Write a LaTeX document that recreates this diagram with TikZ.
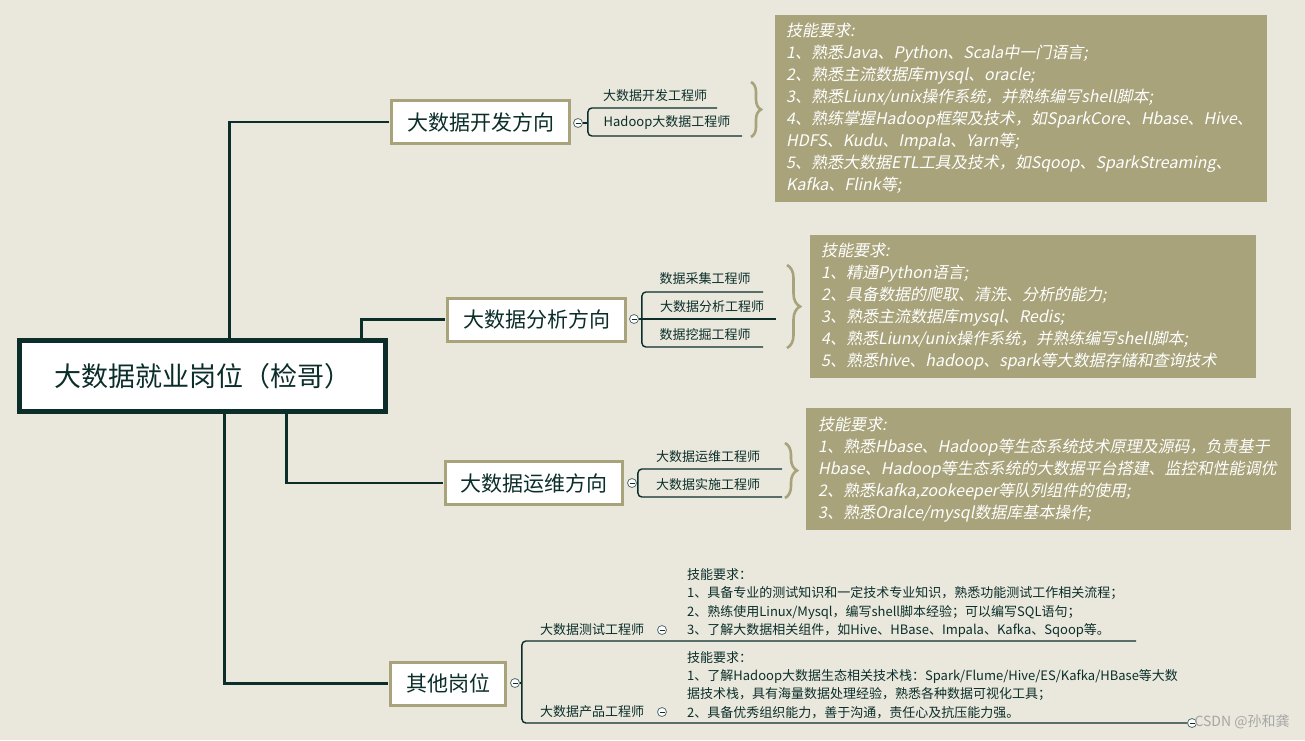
\documentclass[tikz,border=0pt]{standalone}
\usepackage{fontspec}
\setmainfont{Noto Sans CJK SC}
\newfontfamily\skillfont[FakeSlant=0.2]{Noto Sans CJK SC}
\usetikzlibrary{decorations.pathreplacing}
\definecolor{bg}{HTML}{EAE8DC}
\definecolor{tan}{HTML}{A8A37B}
\definecolor{ink}{HTML}{0B2E2B}

\tikzset{
  branch/.style={draw=tan, line width=3pt, fill=white, text=ink, minimum height=43pt, inner sep=0pt, font=\fontsize{21}{21}\selectfont},
  skill/.style={fill=tan, text=white, align=left, anchor=north west, inner xsep=11pt, inner ysep=0pt, font=\skillfont\fontsize{16}{22}\selectfont},
  plain/.style={text=ink, align=left, anchor=west, inner sep=0pt, font=\fontsize{13}{18.2}\selectfont},
  sublabel/.style={text=ink, inner sep=0pt, font=\fontsize{13}{13}\selectfont},
  conn/.style={draw=ink, line width=2.5pt},
  sub/.style={draw=ink, line width=1.4pt, rounded corners=4pt},
  curly/.style={draw=tan, line width=2.6pt, decorate, decoration={brace, amplitude=#1}},
  fold/.style={circle, draw=ink!70, fill=white, line width=0.8pt, minimum size=9pt, inner sep=0pt,
    path picture={\draw[ink, line width=0.8pt] ([xshift=2pt]path picture bounding box.west) -- ([xshift=-2pt]path picture bounding box.east);}}
}

\begin{document}
\begin{tikzpicture}[x=1pt, y=-1pt]
\fill[bg] (0,0) rectangle (1305,740);
\useasboundingbox (0,0) rectangle (1305,740);

\node[draw=ink, line width=5pt, fill=white, text=ink, minimum width=366pt, minimum height=71pt, font=\fontsize{27}{27}\selectfont] (root) at (202.5,376) {大数据就业岗位（检哥）};

\node[branch, minimum width=178pt] (dev) at (480.5,122) {大数据开发方向};
\node[branch, minimum width=178pt] (ana) at (536.5,319.5) {大数据分析方向};
\node[branch, minimum width=177pt] (ops) at (534,483) {大数据运维方向};
\node[branch, minimum width=115pt] (other) at (448,683.5) {其他岗位};

\draw[conn] ([xshift=27pt]root.north) |- ([xshift=-1.5pt]dev.west);
\draw[conn] ([xshift=159pt]root.north) |- ([xshift=-1.5pt]ana.west);
\draw[conn] ([xshift=84pt]root.south) |- ([xshift=-1.5pt]ops.west);
\draw[conn] ([xshift=22pt]root.south) |- ([xshift=-1.5pt]other.west);

\node[fold] (f1) at (578,123) {};
\node[fold] (f2) at (634,319) {};
\node[fold] (f3) at (632,483) {};
\node[fold] (f4) at (515,683) {};

\node[sublabel] (d1) at (655,96) {大数据开发工程师};
\node[sublabel] (d2) at (667,123) {Hadoop大数据工程师};
\coordinate (d1e) at (717,108);
\coordinate (d2e) at (742,136);
\draw[sub] (d1e) -| ([xshift=5pt]f1.east) |- (d2e);
\draw[sub] (f1.east) -- ([xshift=5pt]f1.east);

\node[sublabel] (a1) at (705,279) {数据采集工程师};
\node[sublabel] (a2) at (712,307) {大数据分析工程师};
\node[sublabel] (a3) at (705,335) {数据挖掘工程师};
\coordinate (a1e) at (763,292);
\coordinate (a2e) at (776,319);
\coordinate (a3e) at (763,347);
\draw[sub] (a1e) -| ([xshift=3pt]f2.east) |- (a3e);
\draw[sub] (f2.east) -- (a2e);

\node[sublabel] (o1) at (708,457) {大数据运维工程师};
\node[sublabel] (o2) at (708,485) {大数据实施工程师};
\coordinate (o1e) at (782,469);
\coordinate (o2e) at (782,497);
\draw[sub] (o1e) -| ([xshift=1pt]f3.east) |- (o2e);
\draw[sub] (f3.east) -- ([xshift=1pt]f3.east);

\node[sublabel, anchor=west] (t1) at (540,630) {大数据测试工程师};
\node[sublabel, anchor=west] (t2) at (540,712) {大数据产品工程师};
\node[fold] (g1) at (662,630) {};
\node[fold] (g2) at (662,712) {};
\node[fold] (g3) at (1192,723) {};
\coordinate (t1e) at (1136,641);
\draw[sub] (t1e) -| ([xshift=2pt]f4.east) |- (g3.west);
\draw[sub] (f4.east) -- ([xshift=2pt]f4.east);

\draw[curly=10pt] (751,82) -- (751,137);
\draw[curly=13pt] (787,265) -- (787,348);
\draw[curly=12pt] (785,443) -- (785,498);

\node[skill, minimum width=492pt, minimum height=187pt, text width=470pt] (s1) at (775,15) {技能要求:\\
1、熟悉Java、Python、Scala中一门语言;\\
2、熟悉主流数据库mysql、oracle;\\
3、熟悉Liunx/unix操作系统，并熟练编写shell脚本;\\
4、熟练掌握Hadoop框架及技术，如SparkCore、Hbase、Hive、\\
HDFS、Kudu、Impala、Yarn等;\\
5、熟悉大数据ETL工具及技术，如Sqoop、SparkStreaming、\\
Kafka、Flink等;};

\node[skill, minimum width=446pt, minimum height=143pt, text width=424pt] (s2) at (810,235) {技能要求:\\
1、精通Python语言;\\
2、具备数据的爬取、清洗、分析的能力;\\
3、熟悉主流数据库mysql、Redis;\\
4、熟悉Liunx/unix操作系统，并熟练编写shell脚本;\\
5、熟悉hive、hadoop、spark等大数据存储和查询技术};

\node[skill, minimum width=483pt, minimum height=122pt, text width=461pt, inner xsep=12pt] (s3) at (806,408) {技能要求:\\
1、熟悉Hbase、Hadoop等生态系统技术原理及源码，负责基于\\
Hbase、Hadoop等生态系统的大数据平台搭建、监控和性能调优\\
2、熟悉kafka,zookeeper等队列组件的使用;\\
3、熟悉Oralce/mysql数据库基本操作;};

\node[plain] (p1) at (687,603) {技能要求：\\
1、具备专业的测试知识和一定技术专业知识，熟悉功能测试工作相关流程；\\
2、熟练使用Linux/Mysql，编写shell脚本经验；可以编写SQL语句；\\
3、了解大数据相关组件，如Hive、HBase、Impala、Kafka、Sqoop等。};

\node[plain] (p2) at (687,685) {技能要求：\\
1、了解Hadoop大数据生态相关技术栈：Spark/Flume/Hive/ES/Kafka/HBase等大数\\
据技术栈，具有海量数据处理经验，熟悉各种数据可视化工具；\\
2、具备优秀组织能力，善于沟通，责任心及抗压能力强。};

\node[text=gray!70, inner sep=0pt, font=\fontsize{14}{14}\selectfont] (mark) at (1242,722) {CSDN @孙和龚};
\end{tikzpicture}
\end{document}
